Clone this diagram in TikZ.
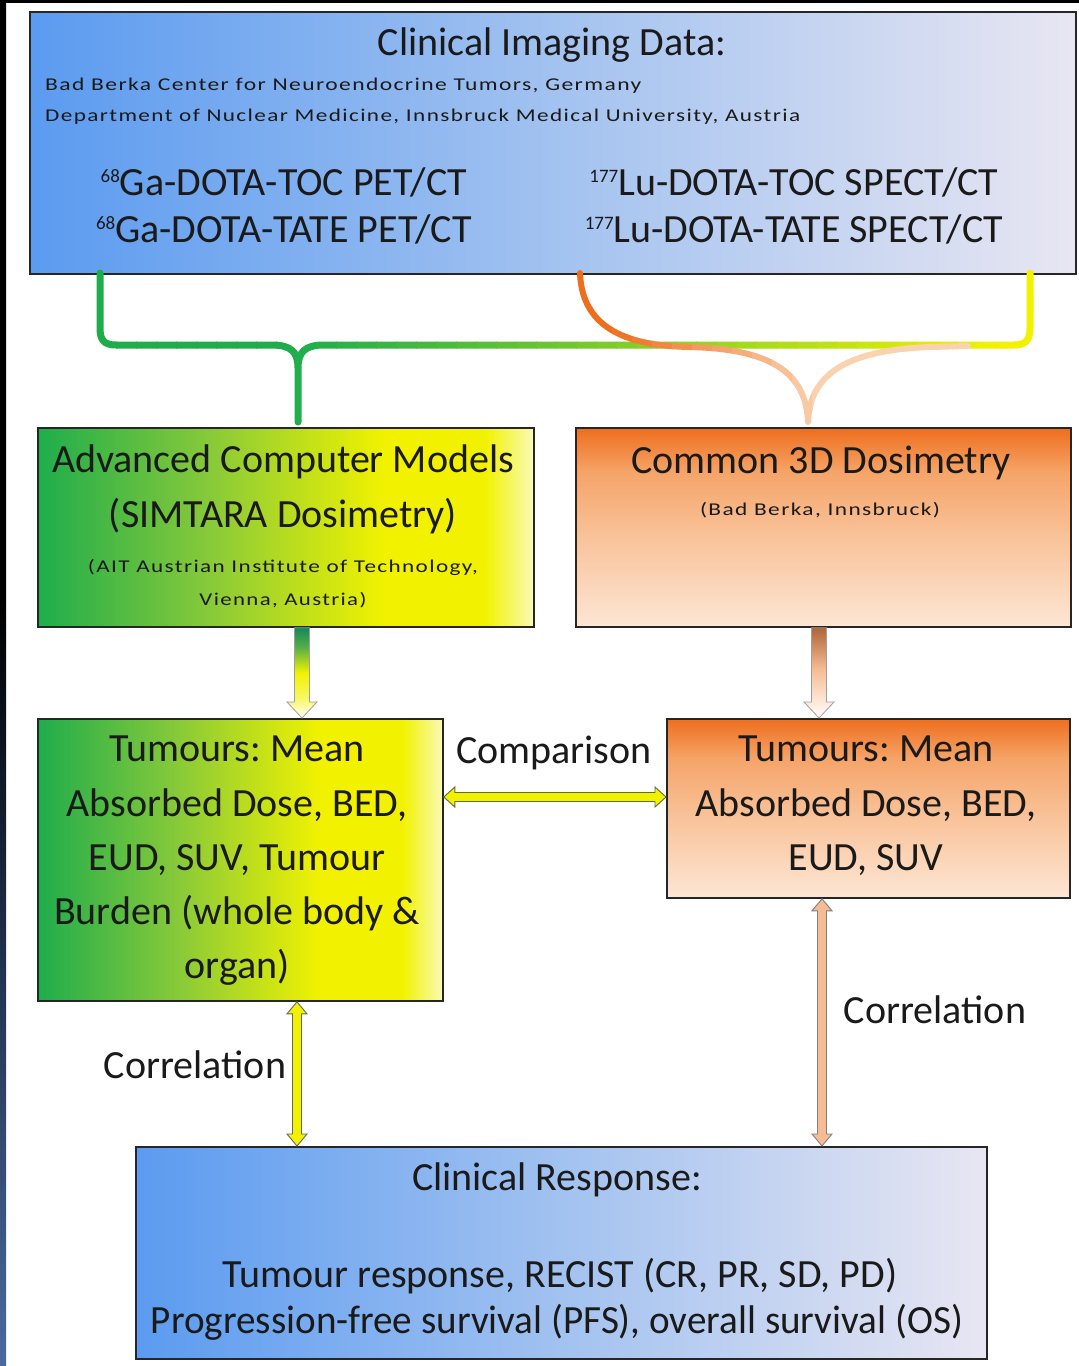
\documentclass[tikz,border=0pt]{standalone}
\usepackage{fontspec}
\setmainfont{Carlito}
\newfontfamily\spfont[LetterSpace=6]{Carlito}
\usepackage{graphicx}
\usetikzlibrary{calc}
\frenchspacing

\definecolor{txt}{HTML}{1A1A1A}
\definecolor{bluA}{HTML}{5B9BF0}
\definecolor{bluM}{HTML}{A2C2F0}
\definecolor{bluB}{HTML}{E8E6F2}
\definecolor{grA}{HTML}{1FAD4C}
\definecolor{grD}{HTML}{128A58}
\definecolor{grM}{HTML}{86C93A}
\definecolor{yeA}{HTML}{F2F200}
\definecolor{yeB}{HTML}{FAFAB8}
\definecolor{orA}{HTML}{EE6E1E}
\definecolor{orM}{HTML}{F5A468}
\definecolor{orB}{HTML}{FDE6D4}
\definecolor{brA}{HTML}{B0643A}
\definecolor{peach}{HTML}{F6BC94}
\definecolor{peachL}{HTML}{F9D2B0}
\definecolor{stripB}{HTML}{4A6A9E}
\definecolor{stripM}{HTML}{1C2840}

\pgfdeclarehorizontalshading{blueshade}{100bp}{color(0bp)=(bluA); color(25bp)=(bluA); color(50bp)=(bluM); color(75bp)=(bluB); color(100bp)=(bluB)}
\pgfdeclarehorizontalshading{greenshade}{100bp}{color(0bp)=(grA); color(25bp)=(grA); color(42bp)=(grM); color(60bp)=(yeA); color(70bp)=(yeA); color(75bp)=(yeB); color(100bp)=(yeB)}
\pgfdeclareverticalshading{orangeshade}{100bp}{color(0bp)=(orB); color(25bp)=(orB); color(48bp)=(orM!55!orB); color(64bp)=(orM); color(75bp)=(orA); color(100bp)=(orA)}
\pgfdeclareverticalshading{stripshade}{100bp}{color(0bp)=(stripB); color(25bp)=(stripB); color(42bp)=(stripM); color(53bp)=(black); color(100bp)=(black)}
\pgfdeclareverticalshading{garrow}{100bp}{color(0bp)=(white); color(25bp)=(white); color(36bp)=(yeA!60!white); color(50bp)=(yeA); color(64bp)=(grM!60!grD); color(75bp)=(grD); color(100bp)=(grD)}
\pgfdeclareverticalshading{oarrow}{100bp}{color(0bp)=(white); color(25bp)=(white); color(36bp)=(peachL!60!white); color(52bp)=(peach); color(75bp)=(brA); color(100bp)=(brA)}

\tikzset{
  box/.style={draw=black!85, line width=1.8pt, inner sep=0pt, anchor=north west, shade},
  lbl/.style={text=txt, inner sep=0pt, font=\fontsize{40}{48}\selectfont, anchor=base},
  small/.style={text=txt, inner sep=0pt, anchor=base},
  bracestroke/.style={line width=7pt, line cap=round, line join=round},
}

\newcommand\iso[1]{\raisebox{13pt}{\fontsize{19}{20}\selectfont #1}}
\newcommand\smalltext[2]{\resizebox{#1}{\height}{\spfont\fontsize{18}{20}\selectfont #2}}
\newcommand\blockdown[3]{\shade[shading=#3, draw=gray!75, line width=0.8pt]
  ($(#1)+(-7.5,0)$) -- ($(#2)+(-7.5,-16)$) -- ($(#2)+(-15,-16)$) -- (#2) --
  ($(#2)+(15,-16)$) -- ($(#2)+(7.5,-16)$) -- ($(#1)+(7.5,0)$) -- cycle;}
\newcommand\dblh[4]{\fill[#3, draw=#4, line width=0.9pt]
  (#1) -- ($(#1)+(11,-10)$) -- ($(#1)+(11,-4.5)$) -- ($(#2)+(-11,-4.5)$) -- ($(#2)+(-11,-10)$) --
  (#2) -- ($(#2)+(-11,10)$) -- ($(#2)+(-11,4.5)$) -- ($(#1)+(11,4.5)$) -- ($(#1)+(11,10)$) -- cycle;}
\newcommand\dblv[4]{\fill[#3, draw=#4, line width=0.9pt]
  (#1) -- ($(#1)+(10,12)$) -- ($(#1)+(4.5,12)$) -- ($(#2)+(4.5,-12)$) -- ($(#2)+(10,-12)$) --
  (#2) -- ($(#2)+(-10,-12)$) -- ($(#2)+(-4.5,-12)$) -- ($(#1)+(-4.5,12)$) -- ($(#1)+(-10,12)$) -- cycle;}

\def\greenbracepath{(100,273) -- (100,328) .. controls (100,340) and (104,345) .. (116,345) -- (272,345) .. controls (291,345) and (298,352) .. (298,368) -- (298,422) (298,368) .. controls (298,352) and (305,345) .. (324,345) -- (1014,345) .. controls (1026,345) and (1030,340) .. (1030,328) -- (1030,273)}
\def\orangebracepath{(580,273) .. controls (582,330) and (630,346) .. (690,347) .. controls (770,349) and (806,372) .. (808,422) (808,422) .. controls (810,372) and (850,350) .. (930,347) -- (968,346)}

\begin{document}
\begin{tikzpicture}[x=1pt,y=-1pt]
\useasboundingbox (0,0) rectangle (1079,1366);
\fill[white] (0,0) rectangle (1079,1366);
\shade[shading=stripshade] (0,0) rectangle (6,1366);
\fill[black] (0,0) rectangle (1079,3);

% ---------- boxes ----------
\node[box, shading=blueshade, minimum width=1046pt, minimum height=262pt] (imaging) at (29,11) {};
\node[box, shading=greenshade, minimum width=496pt, minimum height=199pt] (adv) at (37,427) {};
\node[box, shading=orangeshade, minimum width=495pt, minimum height=199pt] (c3d) at (575,427) {};
\node[box, shading=greenshade, minimum width=405pt, minimum height=282pt] (tumL) at (37,718) {};
\node[box, shading=orangeshade, minimum width=403pt, minimum height=179pt] (tumR) at (666,718) {};
\node[box, shading=blueshade, minimum width=851pt, minimum height=212pt] (resp) at (135,1146) {};

% ---------- braces (horizontal colour gradient by slabs) ----------
\foreach \i in {0,...,47}{
  \pgfmathsetmacro\xa{96+\i*20}
  \pgfmathsetmacro\xb{\xa+21}
  \pgfmathsetmacro\pp{max(0,min(100,(\xa+10-300)/7))}
  \begin{scope}
    \clip (\xa,262) rectangle (\xb,430);
    \draw[bracestroke, color=yeA!\pp!grA] \greenbracepath;
  \end{scope}
}
\foreach \i in {0,...,21}{
  \pgfmathsetmacro\xa{572+\i*20}
  \pgfmathsetmacro\xb{\xa+21}
  \pgfmathsetmacro\pp{max(0,min(100,(\xa+10-610)/2.1))}
  \begin{scope}
    \clip (\xa,262) rectangle (\xb,430);
    \draw[bracestroke, line width=6pt, color=peachL!\pp!orA] \orangebracepath;
  \end{scope}
}

% ---------- texts ----------
\node[lbl] (tImg) at (552,55) {Clinical Imaging Data:};
\node[small, anchor=base west] (tBB) at (45,90) {\smalltext{596pt}{Bad Berka Center for Neuroendocrine Tumors, Germany}};
\node[small, anchor=base west] (tDep) at (45,121) {\smalltext{755pt}{Department of Nuclear Medicine, Innsbruck Medical University, Austria}};
\node[lbl] (g1) at (284,195) {\iso{68}Ga-DOTA-TOC PET/CT};
\node[lbl] (g2) at (284,242) {\iso{68}Ga-DOTA-TATE PET/CT};
\node[lbl] (l1) at (794,195) {\iso{177}Lu-DOTA-TOC SPECT/CT};
\node[lbl] (l2) at (794,242) {\iso{177}Lu-DOTA-TATE SPECT/CT};

\node[lbl] (a1) at (283,472) {Advanced Computer Models};
\node[lbl] (a2) at (283,527) {(SIMTARA Dosimetry)};
\node[small] (a3) at (283,572) {\smalltext{390pt}{(AIT Austrian Institute of Technology,}};
\node[small] (a4) at (283,605) {\smalltext{167pt}{Vienna, Austria)}};

\node[lbl] (c1) at (821,473) {Common 3D Dosimetry};
\node[small] (c2) at (820,515) {\smalltext{240pt}{(Bad Berka, Innsbruck)}};

\node[lbl] (tl1) at (237,761) {Tumours: Mean};
\node[lbl] (tl2) at (237,816) {Absorbed Dose, BED,};
\node[lbl] (tl3) at (237,870) {EUD, SUV, Tumour};
\node[lbl] (tl4) at (237,924) {Burden (whole body \&};
\node[lbl] (tl5) at (237,978) {organ)};

\node[lbl] (tr1) at (866,761) {Tumours: Mean};
\node[lbl] (tr2) at (866,816) {Absorbed Dose, BED,};
\node[lbl] (tr3) at (866,870) {EUD, SUV};

\node[lbl] (cmp) at (554,763) {Comparison};
\node[lbl] (corL) at (195,1078) {Correlation};
\node[lbl] (corR) at (935,1023) {Correlation};

\node[lbl] (r1) at (557,1190) {Clinical Response:};
\node[lbl] (r2) at (560,1287) {Tumour response, RECIST (CR, PR, SD, PD)};
\node[lbl] (r3) at (557,1333) {\resizebox{812pt}{\height}{Progression-free survival (PFS), overall survival (OS)}};

% ---------- arrows ----------
\coordinate (ga1) at ($(adv.south west)+(265,0)$);
\coordinate (ga2) at (ga1 |- tumL.north);
\blockdown{ga1}{ga2}{garrow}
\coordinate (oa1) at ($(c3d.south west)+(244,0)$);
\coordinate (oa2) at (oa1 |- tumR.north);
\blockdown{oa1}{oa2}{oarrow}

\coordinate (cmpA) at ($(tumL.north east)+(0,79)$);
\coordinate (cmpB) at ($(tumR.north west)+(0,79)$);
\dblh{cmpA}{cmpB}{yeA}{olive!70!green!60!black}

\coordinate (crA) at ($(tumL.south west)+(260,0)$);
\coordinate (crB) at (crA |- resp.north);
\dblv{crA}{crB}{yeA}{black!60}
\coordinate (crC) at ($(tumR.south west)+(156,0)$);
\coordinate (crD) at (crC |- resp.north);
\dblv{crC}{crD}{peach}{gray}
\end{tikzpicture}
\end{document}
